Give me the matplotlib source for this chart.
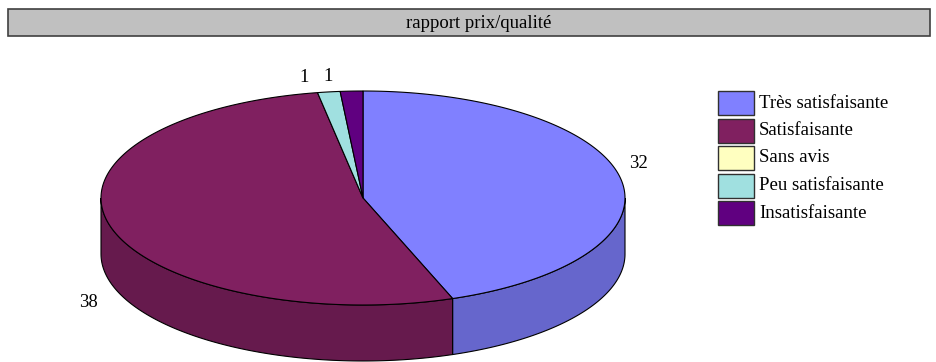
import numpy as np
import matplotlib.pyplot as plt
from matplotlib.patches import Polygon, Rectangle

plt.rcParams['font.family'] = ['Liberation Serif', 'DejaVu Serif']

# Données : rapport prix/qualité
categories = ['Très satisfaisante', 'Satisfaisante', 'Sans avis',
              'Peu satisfaisante', 'Insatisfaisante']
valeurs = [32, 38, 0, 1, 1]
couleurs = ['#8080ff', '#802060', '#ffffc0', '#a0e0e0', '#600080']
titre = 'rapport prix/qualité'

# petits décalages des étiquettes (en pixels)
decal_etiq = [(-8, -14), (4, 18), (0, 0), (-21, -4), (-22, -4)]

W, H = 936, 362
fig = plt.figure(figsize=(W / 100, H / 100), dpi=100)
ax = fig.add_axes([0, 0, 1, 1])
ax.set_xlim(0, W)
ax.set_ylim(H, 0)
ax.axis('off')

# bandeau du titre
ax.add_patch(Rectangle((8, 9), 922, 27, facecolor='#c0c0c0',
                       edgecolor='#404040', lw=1.2))
ax.text(479, 23, titre, ha='center', va='center', fontsize=13.5)

# géométrie du camembert 3D
cx, cy, rx, ry, prof = 363, 198, 262, 107, 56


def pt(theta, dy=0):
    t = np.radians(theta)
    return cx + rx * np.sin(t), cy - ry * np.cos(t) + dy


def sombre(c, f=0.8):
    r, g, b = [int(c[i:i + 2], 16) / 255 for i in (1, 3, 5)]
    return (r * f, g * f, b * f)


total = sum(valeurs)
bornes = np.concatenate([[0], np.cumsum(valeurs) / total * 360])

# faces latérales (partie avant, de 90° à 270°)
for i, c in enumerate(couleurs):
    a0, a1 = max(bornes[i], 90), min(bornes[i + 1], 270)
    if a1 <= a0:
        continue
    th = np.linspace(a0, a1, 100)
    haut = [pt(t) for t in th]
    bas = [pt(t, prof) for t in th[::-1]]
    ax.add_patch(Polygon(haut + bas, closed=True, facecolor=sombre(c),
                         edgecolor='black', lw=0.8))

# face supérieure
for i, c in enumerate(couleurs):
    a0, a1 = bornes[i], bornes[i + 1]
    if a1 <= a0:
        continue
    th = np.linspace(a0, a1, 200)
    pts = [(cx, cy)] + [pt(t) for t in th]
    ax.add_patch(Polygon(pts, closed=True, facecolor=c,
                         edgecolor='black', lw=0.8))

# étiquettes des valeurs
for i, v in enumerate(valeurs):
    if v == 0:
        continue
    m = np.radians((bornes[i] + bornes[i + 1]) / 2)
    lx = cx + rx * 1.1 * np.sin(m)
    ly = cy - ry * 1.1 * np.cos(m) + (prof if np.cos(m) < 0 else 0)
    dx, dy = decal_etiq[i]
    ax.text(lx + dx, ly + dy, str(v), ha='center', va='center', fontsize=13.5)

# légende
for i, (nom, c) in enumerate(zip(categories, couleurs)):
    y0 = 91 + i * 27.5
    ax.add_patch(Rectangle((718, y0), 36, 24, facecolor=c,
                           edgecolor='#303030', lw=1))
    ax.text(759, y0 + 12, nom, ha='left', va='center', fontsize=13.5)

fig.savefig('out.png', dpi=100)
